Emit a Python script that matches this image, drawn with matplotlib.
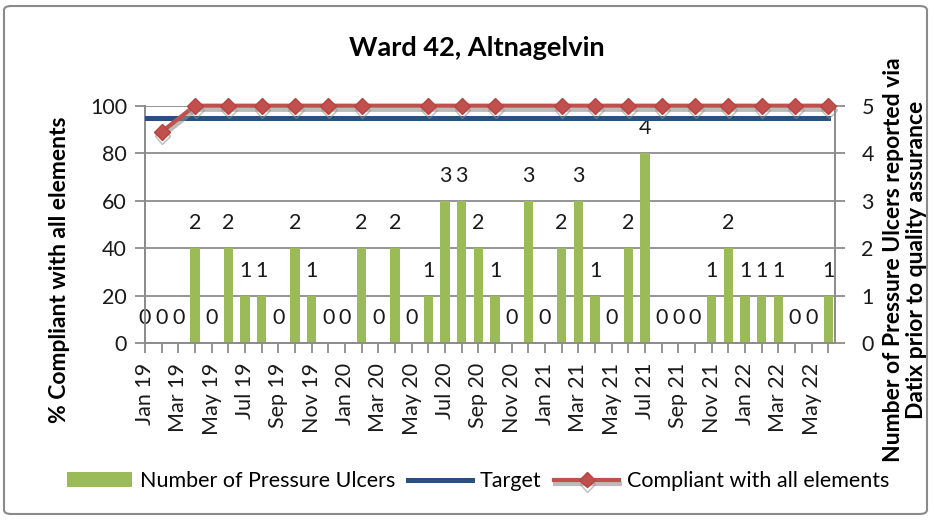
import numpy as np
import matplotlib
matplotlib.use("Agg")
from matplotlib import pyplot as plt
from matplotlib import patheffects as pe
from matplotlib.patches import FancyBboxPatch

plt.rcParams['font.family'] = ['Lato', 'DejaVu Sans']

# 数据
months = ['Jan 19', 'Feb 19', 'Mar 19', 'Apr 19', 'May 19', 'Jun 19', 'Jul 19', 'Aug 19',
          'Sep 19', 'Oct 19', 'Nov 19', 'Dec 19', 'Jan 20', 'Feb 20', 'Mar 20', 'Apr 20',
          'May 20', 'Jun 20', 'Jul 20', 'Aug 20', 'Sep 20', 'Oct 20', 'Nov 20', 'Dec 20',
          'Jan 21', 'Feb 21', 'Mar 21', 'Apr 21', 'May 21', 'Jun 21', 'Jul 21', 'Aug 21',
          'Sep 21', 'Oct 21', 'Nov 21', 'Dec 21', 'Jan 22', 'Feb 22', 'Mar 22', 'Apr 22',
          'May 22', 'Jun 22']
ulcers = [0, 0, 0, 2, 0, 2, 1, 1, 0, 2, 1, 0, 0, 2, 0, 2, 0, 1, 3, 3, 2,
          1, 0, 3, 0, 2, 3, 1, 0, 2, 4, 0, 0, 0, 1, 2, 1, 1, 1, 0, 0, 1]
nan = np.nan
compliant = [nan, 89, nan, 100, nan, 100, nan, 100, nan, 100, nan, 100, nan, 100,
             nan, nan, nan, 100, nan, 100, nan, 100, nan, nan, nan, 100, nan, 100,
             nan, 100, nan, 100, nan, 100, nan, 100, nan, 100, nan, 100, nan, 100]
target = 95

grey = '#8c8c8c'
txt = '#1a1a1a'
fs = 15.5
x = np.arange(len(months))

fig = plt.figure(figsize=(9.34, 5.2), dpi=100)
ax2 = fig.add_axes([145 / 934, 1 - 343.3 / 520, 690 / 934, 237.6 / 520])
ax = ax2.twinx()
# 左轴放到右轴上面
ax.yaxis.tick_left()
ax.yaxis.set_label_position('left')
ax2.yaxis.tick_right()
ax2.yaxis.set_label_position('right')
ax.set_zorder(ax2.get_zorder() + 1)
ax.patch.set_visible(False)

# 柱子（次坐标轴）
ax2.bar(x, ulcers, width=0.55, color='#9bbb59', label='Number of Pressure Ulcers', zorder=2)
for i, v in enumerate(ulcers):
    ax2.annotate(str(v), (i, v), xytext=(0, 18), textcoords='offset points',
                 ha='center', va='center', fontsize=fs, color=txt)
ax2.set_ylim(0, 5)
ax2.set_yticks(range(0, 6))
ax2.grid(axis='y', color=grey, linewidth=1.3)
ax2.set_axisbelow(True)

# 线
ax.plot(x, [target] * len(x), color='#29507f', linewidth=3.6, label='Target', zorder=3)
comp = np.array(compliant, dtype=float)
ok = ~np.isnan(comp)
ax.plot(x[ok], comp[ok], color='#c0504d', linewidth=3, marker='D', markersize=8,
        markeredgecolor='#b8433f', label='Compliant with all elements', zorder=4,
        clip_on=False,
        path_effects=[pe.SimpleLineShadow(offset=(0.5, -3), shadow_color='#8f8f8f', alpha=0.6),
                      pe.Normal()])
ax.set_ylim(0, 100)
ax.set_yticks(range(0, 101, 20))

ax2.set_xlim(0, 41.4)
ax2.set_xticks(x[::2])
ax2.set_xticklabels(months[::2], rotation=90, fontsize=fs)
ax2.set_xticks(x, minor=True)

for a in (ax, ax2):
    for s in a.spines.values():
        s.set_color(grey)
        s.set_linewidth(1.3)
    a.spines['top'].set_visible(False)
    a.tick_params(axis='both', which='both', color=grey, width=1.3, length=7, labelsize=fs,
                  labelcolor=txt)
ax2.tick_params(axis='x', pad=7)
ax2.tick_params(axis='y', pad=12)
ax.tick_params(axis='y', pad=6)

ax.set_ylabel('% Compliant with all elements', fontsize=16.5, fontweight='bold')
ax.yaxis.set_label_coords((60 - 145) / 690, (343.3 - 270) / 237.6)
ax.yaxis.label.set_va('center')
ax2.set_ylabel('Number of Pressure Ulcers reported via\nDatix prior to quality assurance',
               fontsize=16.5, fontweight='bold', linespacing=1.15)
ax2.yaxis.set_label_coords((905 - 145) / 690, (343.3 - 260) / 237.6)
ax2.yaxis.label.set_va('center')

fig.suptitle('Ward 42, Altnagelvin', x=0.51, y=1 - 48 / 520, va='center',
             fontsize=19.5, fontweight='bold')

h1, l1 = ax2.get_legend_handles_labels()
h2, l2 = ax.get_legend_handles_labels()
fig.legend(h1 + h2, l1 + l2, loc='center', bbox_to_anchor=(0.512, 1 - 481 / 520), ncol=3,
           frameon=False, fontsize=fs, handlelength=3.0, handleheight=0.65,
           handletextpad=0.35, columnspacing=0.6, numpoints=1)

# 外框
fig.patches.append(FancyBboxPatch((4 / 934, 6 / 520), 923 / 934, 508 / 520,
                                  boxstyle='round,pad=0,rounding_size=0.008',
                                  transform=fig.transFigure, fill=False,
                                  edgecolor='#8a8a8a', linewidth=1.5))

fig.savefig('out.png', dpi=100)
